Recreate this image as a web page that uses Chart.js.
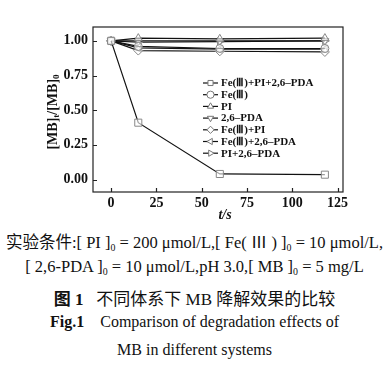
<!DOCTYPE html>
<html>
<head>
<meta charset="utf-8">
<script src="https://cdn.jsdelivr.net/npm/chart.js@4/dist/chart.umd.min.js"></script>
<style>
  body { margin: 0; background: #fff; width: 389px; height: 381px; overflow: hidden; position: relative; }
  #wrap { position: absolute; left: 0; top: 0; width: 389px; height: 225px; }
  .cap { position: absolute; left: 0; width: 389px; text-align: center; white-space: nowrap;
         font-family: "Liberation Serif", "Noto Sans CJK SC", serif; color: #111; }
  .cap sub { font-size: 60%; vertical-align: -3px; }
  .cn { font-family: "Noto Sans CJK SC", sans-serif; }
</style>
</head>
<body>
<div id="wrap"><canvas id="mbChart"></canvas></div>
<div class="cap" style="top:229px;font-size:16.5px;"><span class="cn">实验条件</span>:[ PI ]<sub>0</sub> = 200 μmol/L,[ Fe( Ⅲ ) ]<sub>0</sub> = 10 μmol/L,</div>
<div class="cap" style="top:257px;font-size:16.5px;">[ 2,6-PDA ]<sub>0</sub> = 10 μmol/L,pH 3.0,[ MB ]<sub>0</sub> = 5 mg/L</div>
<div class="cap" style="top:285px;font-size:17px;"><span class="cn" style="font-weight:bold">图</span> <b>1</b>&nbsp;&nbsp;&nbsp;<span class="cn">不同体系下</span> MB <span class="cn">降解效果的比较</span></div>
<div class="cap" style="top:313px;font-size:16px;"><b>Fig.1</b>&nbsp;&nbsp;&nbsp; Comparison of degradation effects of</div>
<div class="cap" style="top:341px;font-size:16px;">MB in different systems</div>
<script>
// time points (s) and normalised MB concentration
const times = [0, 15, 60, 118];
const seriesNames = ['Fe(Ⅲ)+PI+2,6–PDA', 'Fe(Ⅲ)', 'PI', '2,6–PDA', 'Fe(Ⅲ)+PI', 'Fe(Ⅲ)+2,6–PDA', 'PI+2,6–PDA'];
const feP_PI_PDA = [1.00, 0.41, 0.04, 0.035];
const feOnly = [1.00, 0.96, 0.945, 0.945];
const piOnly = [1.00, 1.02, 1.015, 1.02];
const pdaOnly = [1.00, 1.00, 1.00, 1.00];
const fePI = [1.00, 0.93, 0.925, 0.92];
const fePDA = [1.00, 0.95, 0.94, 0.94];
const piPDA = [1.00, 0.99, 0.995, 1.00];
const yTicks = [0, 0.25, 0.5, 0.75, 1.0];
const xTicks = [0, 25, 50, 75, 100, 125];

const allValues = [feP_PI_PDA, feOnly, piOnly, pdaOnly, fePI, fePDA, piPDA];
const markers = [
    { style: 'rect', rot: 0, r: 5 },
    { style: 'circle', rot: 0, r: 4 },
    { style: 'triangle', rot: 0, r: 4.5 },
    { style: 'triangle', rot: 180, r: 4.5 },
    { style: 'rectRot', rot: 0, r: 4.5 },
    { style: 'triangle', rot: 270, r: 4.5 },
    { style: 'triangle', rot: 90, r: 4.5 }
];

const SERIF = '"Liberation Serif", "Times New Roman", serif';

const datasets = allValues.map((vals, i) => ({
    label: seriesNames[i],
    data: vals.map((v, k) => ({ x: times[k], y: v })),
    borderColor: '#111',
    borderWidth: 1.2,
    pointStyle: markers[i].style,
    rotation: markers[i].rot,
    pointRadius: markers[i].r,
    pointBorderColor: '#888',
    pointBackgroundColor: 'rgba(255,255,255,0.6)',
    pointBorderWidth: 1,
    tension: 0
}));

// box frame, inward ticks, axis titles, legend
const decorPlugin = {
    id: 'decor',
    afterDraw(chart) {
        const ctx = chart.ctx;
        const a = chart.chartArea;
        const xs = chart.scales.x, ys = chart.scales.y;
        ctx.save();
        ctx.strokeStyle = '#222';
        ctx.lineWidth = 1.2;
        ctx.strokeRect(a.left, a.top, a.right - a.left, a.bottom - a.top);
        ctx.beginPath();
        yTicks.forEach(v => {
            const y = Math.round(ys.getPixelForValue(v)) + 0.5;
            ctx.moveTo(a.left, y); ctx.lineTo(a.left + 4, y);
        });
        xTicks.forEach(v => {
            const x = Math.round(xs.getPixelForValue(v)) + 0.5;
            ctx.moveTo(x, a.bottom); ctx.lineTo(x, a.bottom - 4);
        });
        ctx.stroke();

        // y title: [MB]t/[MB]0
        ctx.fillStyle = '#111';
        ctx.translate(53, 112);
        ctx.rotate(-Math.PI / 2);
        const big = 'bold 14px ' + SERIF, small = 'bold 9px ' + SERIF;
        const parts = [['[MB]', big, 0], ['t', small, 4], ['/[MB]', big, 0], ['0', small, 4]];
        let w = 0;
        parts.forEach(p => { ctx.font = p[1]; w += ctx.measureText(p[0]).width; });
        let px = -w / 2;
        ctx.textBaseline = 'middle';
        ctx.textAlign = 'left';
        parts.forEach(p => {
            ctx.font = p[1];
            ctx.fillText(p[0], px, p[2]);
            px += ctx.measureText(p[0]).width;
        });
        ctx.restore();

        // x title: t/s
        ctx.save();
        ctx.fillStyle = '#111';
        ctx.textBaseline = 'middle';
        ctx.font = 'bold italic 14px ' + SERIF;
        const tw = ctx.measureText('t/s').width;
        ctx.fillText('t/s', 225 - tw / 2, 215);
        ctx.restore();

        // legend inside plot
        ctx.save();
        chart.data.datasets.forEach((ds, i) => {
            const y = 83 + i * 11.7;
            ctx.strokeStyle = '#111';
            ctx.lineWidth = 1.2;
            ctx.beginPath();
            ctx.moveTo(203, y); ctx.lineTo(218, y);
            ctx.stroke();
            ctx.strokeStyle = '#777';
            ctx.fillStyle = '#fff';
            ctx.lineWidth = 1;
            Chart.helpers.drawPoint(ctx, { pointStyle: ds.pointStyle, rotation: ds.rotation, radius: 3.6, borderWidth: 1 }, 210.5, y);
            ctx.fillStyle = '#111';
            ctx.font = 'bold 11px ' + SERIF;
            ctx.textBaseline = 'middle';
            ctx.fillText(ds.label, 221, y + 0.5);
        });
        ctx.restore();
    }
};

new Chart(document.getElementById('mbChart'), {
    type: 'line',
    data: { datasets: datasets },
    options: {
        responsive: true,
        maintainAspectRatio: false,
        animation: false,
        layout: { padding: { left: 0, top: 27, right: 46, bottom: 0 } },
        plugins: { legend: { display: false }, tooltip: { enabled: false } },
        scales: {
            x: {
                type: 'linear',
                min: -10, max: 128,
                afterFit: s => { s.height = 33; },
                grid: { display: false, drawTicks: false },
                border: { display: false },
                ticks: { stepSize: 25, includeBounds: false, padding: 3, color: '#111',
                         font: { family: SERIF, size: 14, weight: 'bold' } }
            },
            y: {
                min: -0.09, max: 1.1,
                afterFit: s => { s.width = 93; },
                grid: { display: false, drawTicks: false },
                border: { display: false },
                ticks: { stepSize: 0.25, includeBounds: false, padding: 5, color: '#111',
                         font: { family: SERIF, size: 14, weight: 'bold' },
                         callback: v => v.toFixed(2) }
            }
        }
    },
    plugins: [decorPlugin]
});
</script>
</body>
</html>
